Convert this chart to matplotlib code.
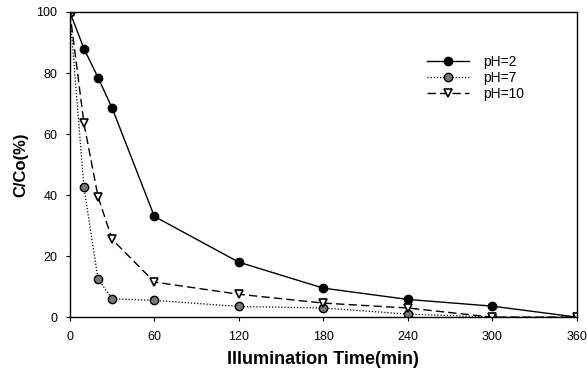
import matplotlib.pyplot as plt

plt.rcParams['font.family'] = ['Liberation Sans', 'DejaVu Sans']

time_min = [0, 10, 20, 30, 60, 120, 180, 240, 300, 360]
ph2 = [100, 88, 78.5, 68.5, 33, 18, 9.5, 5.8, 3.6, 0]
ph7 = [100, 42.5, 12.5, 6, 5.5, 3.5, 3, 1, 0, 0]
ph10 = [100, 63.5, 39.5, 25.5, 11.5, 7.5, 4.6, 3, 0, 0]
xticks = [0, 60, 120, 180, 240, 300, 360]
yticks = [0, 20, 40, 60, 80, 100]

fig = plt.figure(figsize=(5.87, 3.74), dpi=100)
ax = fig.add_axes([0.119, 0.152, 0.864, 0.816])

ax.plot(time_min, ph2, color='black', lw=1.0, ls='-', marker='o', ms=6,
        mfc='black', mec='black', label='pH=2')
ax.plot(time_min, ph7, color='black', lw=0.9, ls=(0, (1, 1.5)), marker='o', ms=6,
        mfc='#777777', mec='black', label='pH=7')
ax.plot(time_min, ph10, color='black', lw=1.0, ls=(0, (6, 3)), marker='v', ms=6,
        mfc='white', mec='black', mew=1.2, label='pH=10')

ax.set_xlim(0, 360)
ax.set_ylim(0, 100)
ax.set_xticks(xticks)
ax.set_yticks(yticks)
ax.tick_params(direction='out', length=3, labelsize=9)
ax.tick_params(axis='y', pad=6)
ax.tick_params(axis='x', pad=7)
for s in ax.spines.values():
    s.set_linewidth(1.0)

ax.set_xlabel('Illumination Time(min)', fontsize=13, fontweight='bold', labelpad=6)
ax.set_ylabel('C/Co(%)', fontsize=12, fontweight='bold', labelpad=6)

ax.legend(loc='upper right', bbox_to_anchor=(0.92, 0.9), frameon=False,
          fontsize=10, handlelength=3, labelspacing=0.15, handletextpad=1.0)

fig.savefig('out.png', dpi=100)
